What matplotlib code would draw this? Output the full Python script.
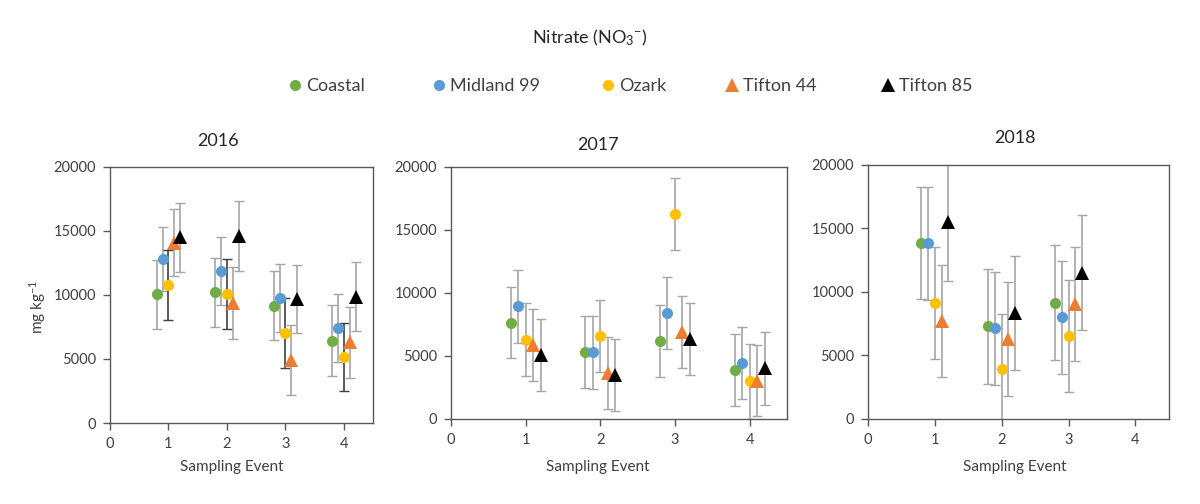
import numpy as np
import matplotlib
matplotlib.use('Agg')
import matplotlib.pyplot as plt
from matplotlib.lines import Line2D

plt.rcParams['font.family'] = ['Lato', 'DejaVu Sans']
plt.rcParams['mathtext.fontset'] = 'custom'
plt.rcParams['mathtext.rm'] = 'Lato'
plt.rcParams['mathtext.it'] = 'Lato'

# cultivars, in plotting order
cultivars = ['Coastal', 'Midland 99', 'Ozark', 'Tifton 44', 'Tifton 85']
colors = ['#70AD47', '#5B9BD5', '#FFC000', '#ED7D31', '#000000']
markers = ['o', 'o', 'o', '^', '^']
offsets = [-0.2, -0.1, 0.0, 0.1, 0.2]

events = [1, 2, 3, 4]
events_2018 = [1, 2, 3]

# means (mg/kg), one row per cultivar
mean_2016 = [[10050, 10200, 9170, 6430],
             [12800, 11900, 9740, 7450],
             [10780, 10080, 7030, 5160],
             [14100, 9400, 4920, 6300],
             [14500, 14600, 9660, 9870]]
err_2016 = [[2700, 2700, 2700, 2750],
            [2500, 2650, 2650, 2650],
            [2700, 2750, 2750, 2650],
            [2650, 2800, 2700, 2750],
            [2700, 2750, 2650, 2700]]

mean_2017 = [[7650, 5290, 6190, 3860],
             [8940, 5290, 8390, 4440],
             [6300, 6610, 16300, 2980],
             [5900, 3650, 6880, 3050],
             [5080, 3520, 6350, 4040]]
err_2017 = [[2850, 2850, 2870, 2850],
            [2900, 2900, 2850, 2850],
            [2900, 2850, 2850, 3000],
            [2850, 2850, 2850, 2850],
            [2850, 2850, 2870, 2900]]

mean_2018 = [[13840, 7290, 9170],
             [13840, 7160, 8000],
             [9150, 3930, 6550],
             [7730, 6290, 9040],
             [15500, 8340, 11530]]
err_2018 = [[4400, 4500, 4500],
            [4450, 4450, 4450],
            [4400, 4350, 4430],
            [4400, 4500, 4500],
            [4650, 4500, 4500]]

fig = plt.figure(figsize=(12, 5.04), dpi=100)

panels = [
    ('2016', mean_2016, err_2016, events, [0.0917, 0.1607, 0.2192, 0.508], (0.1817, 0.720), 0.193),
    ('2017', mean_2017, err_2017, events, [0.3758, 0.1687, 0.2800, 0.500], (0.498, 0.712), 0.498),
    ('2018', mean_2018, err_2018, events_2018, [0.7233, 0.1687, 0.2508, 0.504], (0.846, 0.726), 0.846),
]

for year, means, errs, ev, rect, tpos, xlab_x in panels:
    ax = fig.add_axes(rect)
    for i in range(len(cultivars)):
        x = np.array(ev) + offsets[i]
        ecol = '#A6A6A6'
        if year == '2016' and cultivars[i] == 'Ozark':
            ecol = '#404040'
        ax.errorbar(x, means[i], yerr=errs[i], fmt='none', ecolor=ecol,
                    elinewidth=1.2, capsize=3.5, capthick=1, zorder=2)
        ms = 8 if markers[i] == 'o' else 9.5
        ax.plot(x, means[i], linestyle='none', marker=markers[i], color=colors[i],
                markersize=ms, markeredgewidth=0, zorder=3)
    ax.set_xlim(0, 4.5)
    ax.set_ylim(0, 20000)
    ax.set_xticks([0, 1, 2, 3, 4])
    ax.set_yticks([0, 5000, 10000, 15000, 20000])
    ax.tick_params(labelsize=10.5, colors='#595959', labelcolor='#404040', length=5, width=1, pad=5)
    for s in ax.spines.values():
        s.set_color('#595959')
        s.set_linewidth(1)
    fig.text(tpos[0], tpos[1], year, ha='center', va='center', fontsize=13, color='#262626')
    fig.text(xlab_x, 0.073, 'Sampling Event', ha='center', va='center', fontsize=11, color='#404040')

fig.text(0.031, 0.391, 'mg kg$^{-1}$', rotation=90, ha='center', va='center', fontsize=11, color='#404040')
fig.text(0.491, 0.925, 'Nitrate (NO$_3$$^{-}$)', ha='center', va='center', fontsize=13, color='#262626')

# legend entries placed one by one (marker centres)
legend_x = [295, 439, 608, 732, 888]
for i in range(len(cultivars)):
    h = Line2D([], [], linestyle='none', marker=markers[i], color=colors[i],
               markersize=8 if markers[i] == 'o' else 9.5, markeredgewidth=0)
    leg = fig.legend([h], [cultivars[i]], loc='center left',
                     bbox_to_anchor=((legend_x[i] - 7.2) / 1200, 1 - 86 / 504),
                     frameon=False, fontsize=13, handletextpad=0.2, handlelength=0.8,
                     borderpad=0, borderaxespad=0, labelcolor='#404040')

fig.savefig('out.png', dpi=100)
